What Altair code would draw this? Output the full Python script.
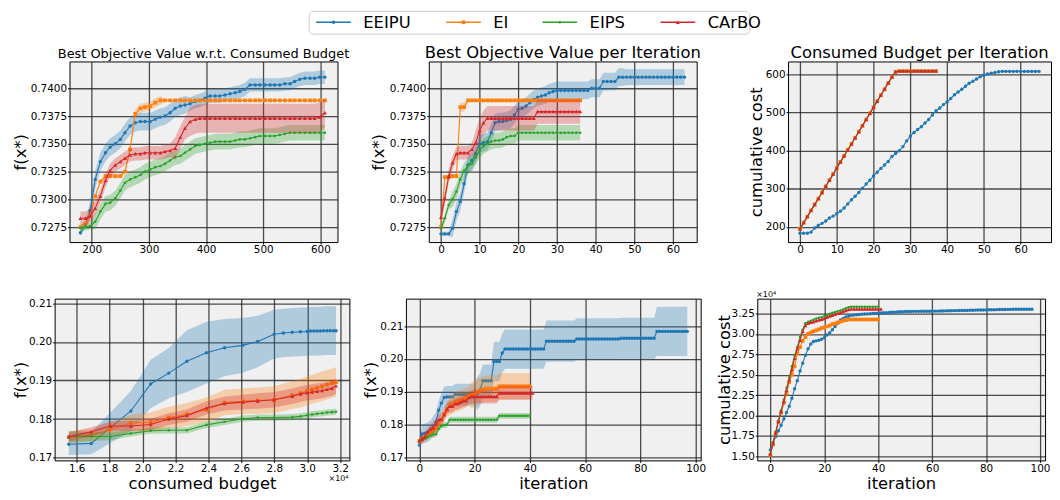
import altair as alt
import pandas as pd
import numpy as np

FONT = "DejaVu Sans"
NAMES = ["EEIPU", "EI", "EIPS", "CArBO"]
COLORS = ["#1f77b4", "#ff7f0e", "#2ca02c", "#d62728"]
SHAPES = ["circle", "square", "circle", "triangle-up"]
SIZES = [12, 14, 7, 16]

# ---------------- Panel 1: best objective vs consumed budget ----------------
P1_BUDGET = [180, 189, 197, 206, 215, 224, 232, 241, 250, 258, 267, 276, 285, 293, 302, 311, 320,
             328, 337, 346, 355, 363, 372, 381, 389, 398, 407, 416, 424, 433, 442, 451, 459, 468,
             477, 486, 494, 503, 512, 520, 529, 538, 547, 555, 564, 573, 582, 590, 599, 608]
P1_EEIPU = [0.7270, 0.7277, 0.7290, 0.7318, 0.7334, 0.7342, 0.7347, 0.7350, 0.7354, 0.7360,
            0.7366, 0.7369, 0.7370, 0.7370, 0.7370, 0.7372, 0.7374, 0.7375, 0.7378, 0.7382,
            0.7384, 0.7385, 0.7386, 0.7388, 0.7389, 0.7391, 0.7393, 0.7393, 0.7393, 0.7394,
            0.7395, 0.7396, 0.7397, 0.7399, 0.7403, 0.7403, 0.7403, 0.7403, 0.7403, 0.7403,
            0.7403, 0.7404, 0.7404, 0.7406, 0.7408, 0.7409, 0.7409, 0.7409, 0.7410, 0.7410]
P1_EI = [0.7275, 0.7278, 0.7285, 0.7303, 0.7316, 0.7321, 0.7321, 0.7321, 0.7321, 0.7325,
         0.7345, 0.7377, 0.7382, 0.7383, 0.7384, 0.7387, 0.7389] + [0.7389] * 33
P1_EIPS = [0.7274, 0.7275, 0.7276, 0.7280, 0.7289, 0.7296, 0.7297, 0.7301, 0.7308, 0.7315,
           0.7318, 0.7320, 0.7322, 0.7325, 0.7327, 0.7329, 0.7330, 0.7332, 0.7335, 0.7338,
           0.7339, 0.7342, 0.7345, 0.7348, 0.7349, 0.7350, 0.7351, 0.7352, 0.7352, 0.7352,
           0.7352, 0.7353, 0.7354, 0.7354, 0.7355, 0.7356, 0.7357, 0.7357, 0.7357, 0.7357,
           0.7358, 0.7359, 0.7360] + [0.7360] * 7
P1_CARBO = [0.7283, 0.7283, 0.7285, 0.7292, 0.7303, 0.7317, 0.7326, 0.7331, 0.7334, 0.7337,
            0.7340, 0.7341, 0.7341, 0.7342, 0.7342, 0.7342, 0.7342, 0.7343, 0.7344, 0.7346,
            0.7356, 0.7364, 0.7370, 0.7372, 0.7373] + [0.7373] * 23 + [0.7374, 0.7378]
P1_SD_EEIPU = [0.0003] * 2 + [0.0008] * 20 + [0.0006] * 28
P1_SD_EI = [0.0002] * 11 + [0.0004] * 6 + [0.0001] * 33
P1_SD_EIPS = [0.0003] * 3 + [0.0007] * 47
P1_SD_CARBO = [0.0006] * 19 + [0.0010] * 3 + [0.0013] * 28

# ---------------- Panel 2: best objective per iteration ----------------
P2_EEIPU = [0.7269, 0.7269, 0.7269, 0.7274, 0.7289, 0.7298, 0.7314, 0.7331, 0.7335, 0.7341,
            0.7350, 0.7351, 0.7352, 0.7360, 0.7369, 0.7370, 0.7370, 0.7371, 0.7372, 0.7376,
            0.7381, 0.7382, 0.7384, 0.7387, 0.7390, 0.7392, 0.7393, 0.7394, 0.7396, 0.7397] \
           + [0.7398] * 9 + [0.7400] * 3 + [0.7406] * 4 + [0.7410] * 18
P2_EI = [0.7275, 0.7320, 0.7320, 0.7321, 0.7321, 0.7383, 0.7383] + [0.7389] * 30
P2_EIPS = [0.7274, 0.7283, 0.7295, 0.7300, 0.7307, 0.7318, 0.7326, 0.7330, 0.7332, 0.7338,
           0.7344, 0.7348, 0.7350, 0.7352, 0.7353, 0.7353, 0.7354, 0.7356, 0.7357, 0.7357] \
          + [0.7360] * 17
P2_CARBO = [0.7284, 0.7301, 0.7321, 0.7333, 0.7341, 0.7342, 0.7342, 0.7342, 0.7345, 0.7351,
            0.7362, 0.7369, 0.7373] + [0.7373] * 12 + [0.7379] * 12
P2_SD_EEIPU = [0.0002] * 3 + [0.0008] * 45 + [0.0007] * 16
P2_SD_EI = [0.0002] * 5 + [0.0004] * 2 + [0.0001] * 30
P2_SD_EIPS = [0.0004] * 3 + [0.0007] * 34
P2_SD_CARBO = [0.0006] * 9 + [0.0011] * 28

# ---------------- Panel 3: consumed budget per iteration ----------------
P3_EEIPU = [183, 183, 183, 186, 197, 204, 209, 215, 223, 228,
            234, 241, 249, 260, 271, 280, 290, 301, 312, 322,
            333, 343, 353, 362, 371, 384, 392, 399, 410, 425,
            437, 447, 455, 462, 472, 481, 493, 504, 511, 520,
            527, 536, 546, 553, 560, 568, 576, 581, 587, 593,
            597, 600, 602, 604, 606] + [607] * 11
P3_EI = [195, 211, 227, 243, 259, 274, 290, 306, 322, 338, 354, 370, 386, 402, 417, 433, 449,
         465, 481, 497, 513, 529, 545, 560, 576, 592, 606] + [608] * 11
P3_EIPS = [194, 210, 226, 242, 258, 274, 290, 306, 321, 337, 353, 369, 385, 401, 417, 433, 449,
           465, 481, 497, 513, 529, 544, 560, 576, 592, 606] + [608] * 11
P3_CARBO = [195, 211, 227, 243, 258, 274, 290, 306, 322, 338, 354, 370, 386, 401, 417, 433, 449,
            465, 481, 497, 513, 529, 545, 561, 577, 593, 606] + [608] * 11

# ---------------- Panel 4: best objective vs consumed budget (x 1e4) ----------------
P4_X_EEIPU = [1.552, 1.688, 1.929, 2.049, 2.159, 2.269, 2.388, 2.498, 2.609, 2.699, 2.799, 2.855,
              2.909, 2.959, 3.000, 3.020, 3.040, 3.060, 3.080, 3.100, 3.120, 3.140, 3.160, 3.175]
P4_EEIPU = [0.1735, 0.1737, 0.1821, 0.1891, 0.1919, 0.1950, 0.1972, 0.1985, 0.1991, 0.2001,
            0.2020, 0.2023, 0.2025, 0.2026, 0.2027, 0.2028, 0.2028, 0.2028, 0.2028, 0.2029,
            0.2029, 0.2029, 0.2029, 0.2029]
P4_SD_EEIPU = [0.0028, 0.0028, 0.0052, 0.0063, 0.0065, 0.0080, 0.0080, 0.0074, 0.0071, 0.0067,
               0.0063, 0.0063] + [0.0063] * 12
P4_X_OTHERS = [1.552, 1.688, 1.806, 1.929, 2.049, 2.159, 2.269, 2.388, 2.498, 2.609, 2.699,
               2.799, 2.909, 2.959, 3.000, 3.030, 3.060, 3.090, 3.120, 3.150, 3.175]
P4_EI = [0.1753, 0.1758, 0.1773, 0.1790, 0.1792, 0.1804, 0.1812, 0.1824, 0.1843, 0.1846, 0.1848,
         0.1850, 0.1862, 0.1867, 0.1873, 0.1877, 0.1881, 0.1885, 0.1889, 0.1893, 0.1896]
P4_SD_EI = [0.0015, 0.0016, 0.0018, 0.0022, 0.0025, 0.0028, 0.0030, 0.0032, 0.0033, 0.0033,
            0.0034, 0.0035, 0.0036, 0.0037] + [0.0038] * 7
P4_EIPS = [0.1755, 0.1755, 0.1755, 0.1763, 0.1770, 0.1771, 0.1771, 0.1785, 0.1793, 0.1801, 0.1804,
           0.1804, 0.1805, 0.1807, 0.1810, 0.1812, 0.1814, 0.1815, 0.1817, 0.1818, 0.1819]
P4_SD_EIPS = [0.0015, 0.0012, 0.0010] + [0.0008] * 18
P4_CARBO = [0.1754, 0.1767, 0.1782, 0.1782, 0.1786, 0.1800, 0.1809, 0.1829, 0.1840, 0.1844, 0.1847,
            0.1850, 0.1859, 0.1865, 0.1868, 0.1870, 0.1872, 0.1874, 0.1877, 0.1880, 0.1886]
P4_SD_CARBO = [0.0012, 0.0012, 0.0012, 0.0013, 0.0014, 0.0015, 0.0016, 0.0017, 0.0018, 0.0019] \
              + [0.0020] * 11

# ---------------- Panel 5: best objective per iteration ----------------
P5_EEIPU = [0.1737, 0.1771, 0.1773, 0.1776, 0.1782, 0.1795, 0.1807, 0.1843, 0.1865, 0.1882] \
           + [0.1884] * 3 + [0.1891] * 8 + [0.1894, 0.1906] + [0.1933] * 4 + [0.1992] * 3 \
           + [0.2018] + [0.2030] * 15 + [0.2054] * 11 + [0.2061] * 16 + [0.2063] * 13 + [0.2084] * 12
P5_SD_EEIPU = [0.0010] + [0.0030] * 8 + [0.0033] * 12 + [0.0050] * 6 + [0.0060] * 19 \
              + [0.0063] * 40 + [0.0075] * 12
P5_EI = [0.1749, 0.1754, 0.1759, 0.1766, 0.1773, 0.1780, 0.1787, 0.1800, 0.1814, 0.1832, 0.1843,
         0.1858, 0.1863, 0.1868, 0.1872, 0.1874, 0.1877, 0.1882, 0.1887, 0.1890, 0.1892, 0.1900,
         0.1903, 0.1906] + [0.1909] * 5 + [0.1916] * 12
P5_SD_EI = [0.0012] * 5 + [0.0020] * 6 + [0.0030] * 8 + [0.0040] * 22
P5_EIPS = [0.1750, 0.1753, 0.1758, 0.1761, 0.1766, 0.1769, 0.1770, 0.1787, 0.1795, 0.1798,
           0.1799] + [0.1814] * 18 + [0.1826] * 12
P5_SD_EIPS = [0.0006] * 5 + [0.0009] * 36
P5_CARBO = [0.1750, 0.1756, 0.1763, 0.1777, 0.1787, 0.1790, 0.1800, 0.1814, 0.1816, 0.1829,
            0.1848, 0.1855, 0.1855, 0.1863, 0.1864, 0.1868, 0.1872, 0.1873, 0.1882] \
           + [0.1885] * 10 + [0.1896] * 13
P5_SD_CARBO = [0.0012] * 5 + [0.0018] * 14 + [0.0021] * 23

# ---------------- Panel 6: consumed budget per iteration (y 1e4) ----------------
P6_EEIPU = [1.578, 1.664, 1.743, 1.813, 1.880, 1.958, 2.036, 2.114, 2.212, 2.329,
            2.427, 2.545, 2.642, 2.740, 2.818, 2.877, 2.908, 2.916, 2.924, 2.936,
            2.955, 2.987, 3.014, 3.053, 3.092, 3.131, 3.171, 3.190, 3.210, 3.218,
            3.229, 3.233, 3.237, 3.240, 3.243, 3.245, 3.247, 3.249, 3.251, 3.253,
            3.256, 3.258, 3.260, 3.262, 3.264, 3.266, 3.268, 3.270, 3.272, 3.274,
            3.276, 3.277, 3.277, 3.278, 3.278, 3.278, 3.279, 3.279, 3.279, 3.280,
            3.280, 3.281, 3.281, 3.282, 3.283, 3.284, 3.285, 3.286, 3.287, 3.287,
            3.288, 3.289, 3.289, 3.290, 3.291, 3.292, 3.293, 3.294, 3.294, 3.295,
            3.296, 3.297, 3.297, 3.298, 3.299, 3.300, 3.300, 3.301, 3.302, 3.302] + [3.303] * 8
P6_EI = [1.516, 1.645, 1.782, 1.919, 2.036, 2.153, 2.271, 2.408, 2.505, 2.603,
         2.760, 2.838, 2.916, 2.963, 3.002, 3.018, 3.034, 3.045, 3.057, 3.073,
         3.081, 3.092, 3.104, 3.120, 3.128, 3.143, 3.151, 3.163, 3.171, 3.178] + [3.178] * 11
P6_EIPS = [1.530, 1.672, 1.801, 1.938, 2.063, 2.192, 2.337, 2.466, 2.603, 2.740,
           2.838, 2.963, 3.053, 3.131, 3.151, 3.163, 3.174, 3.190, 3.198, 3.206,
           3.218, 3.229, 3.249, 3.261, 3.268, 3.280, 3.288, 3.300, 3.315, 3.327] + [3.335] * 11
P6_CARBO = [1.527, 1.656, 1.790, 1.930, 2.048, 2.173, 2.310, 2.439, 2.564, 2.701,
            2.818, 2.924, 3.034, 3.104, 3.131, 3.143, 3.151, 3.163, 3.171, 3.182,
            3.190, 3.206, 3.221, 3.229, 3.241, 3.253, 3.264, 3.276, 3.288, 3.300] + [3.307] * 12

P1_YTICKS = [0.7275, 0.7300, 0.7325, 0.7350, 0.7375, 0.7400]
P3_YTICKS = [200, 300, 400, 500, 600]
P4_XTICKS = [1.6, 1.8, 2.0, 2.2, 2.4, 2.6, 2.8, 3.0, 3.2]
P45_YTICKS = [0.17, 0.18, 0.19, 0.20, 0.21]
P6_YTICKS = [1.50, 1.75, 2.00, 2.25, 2.50, 2.75, 3.00, 3.25]


def iters(vals):
    return list(range(len(vals)))


def anchor(left, right, top, bottom):
    """Invisible rule that fixes the layout bounds of a panel (pixels, relative to its plot)."""
    return alt.Chart(pd.DataFrame({"a": [0]})).mark_rule(opacity=0, strokeWidth=0.1).encode(
        x=alt.value(-left), x2=alt.value(right), y=alt.value(-top), y2=alt.value(bottom))


def label(text, px, py, size, align="center", baseline="alphabetic"):
    return alt.Chart(pd.DataFrame({"t": [text]})).mark_text(
        font=FONT, fontSize=size, color="black", align=align, baseline=baseline).encode(
        text="t:N", x=alt.value(px), y=alt.value(py))


def make_panel(series, xdom, ydom, xticks, yticks, xfmt, yfmt, width, height,
               ytitle, ytitle_x, bounds, xtitle="", title=None, title_size=16.5, extras=()):
    xscale = alt.Scale(domain=xdom, nice=False, zero=False)
    yscale = alt.Scale(domain=ydom, nice=False, zero=False)
    xaxis = alt.Axis(values=xticks, format=xfmt, title=xtitle, titleY=28,
                     titleBaseline="alphabetic")
    yaxis = alt.Axis(values=yticks, format=yfmt, title=ytitle, titleX=ytitle_x,
                     titleBaseline="middle")
    layers = []
    for name, xs, ys, sd in series:
        i = NAMES.index(name)
        df = pd.DataFrame({"x": xs, "y": ys})
        X = alt.X("x:Q", scale=xscale, axis=xaxis)
        if sd is not None:
            s = np.asarray(sd, dtype=float)
            df["lo"] = df["y"] - s
            df["hi"] = df["y"] + s
            layers.append(alt.Chart(df).mark_area(color=COLORS[i], opacity=0.3, clip=True).encode(
                x=X, y=alt.Y("lo:Q", scale=yscale, axis=yaxis), y2="hi:Q"))
        layers.append(alt.Chart(df).mark_line(color=COLORS[i], strokeWidth=1.1, clip=True).encode(
            x=X, y=alt.Y("y:Q", scale=yscale, axis=yaxis)))
        layers.append(alt.Chart(df).mark_point(color=COLORS[i], filled=True, opacity=1,
                                               shape=SHAPES[i], size=SIZES[i], clip=True).encode(
            x=X, y=alt.Y("y:Q", scale=yscale, axis=yaxis)))
    layers.extend(extras)
    if title:
        layers.append(label(title, width / 2, -3, title_size))
    l, r, t, b = bounds
    layers.append(anchor(l, width + r, t, height + b))
    return alt.layer(*layers).properties(width=width, height=height)


def spacer():
    return alt.Chart(pd.DataFrame({"v": [0]})).mark_point(opacity=0, size=1).encode(
        x=alt.value(0), y=alt.value(0)).properties(
        width=1, height=1, view=alt.ViewBackground(stroke="transparent", fill="transparent"))


# ---------------- manual legend ----------------
LEG_W, LEG_H = 444, 23
LEG_CENTERS = [25, 156, 253, 372]
LEG_Y = 11.5
leg_layers = []
for i, name in enumerate(NAMES):
    d = alt.Chart(pd.DataFrame({"name": [name]}))
    c = LEG_CENTERS[i]
    leg_layers.append(d.mark_rule(color=COLORS[i], strokeWidth=1.3).encode(
        x=alt.value(c - 17.5), x2=alt.value(c + 17.5), y=alt.value(LEG_Y)))
    leg_layers.append(d.mark_point(color=COLORS[i], filled=True, opacity=1, shape=SHAPES[i],
                                   size=SIZES[i]).encode(x=alt.value(c), y=alt.value(LEG_Y)))
    leg_layers.append(d.mark_text(font=FONT, fontSize=16.5, color="black", align="left",
                                  baseline="middle").encode(
        text="name:N", x=alt.value(c + 30), y=alt.value(LEG_Y + 0.5)))
leg_layers.append(anchor(299, LEG_W, 0, LEG_H))
legend = alt.layer(*leg_layers).properties(
    width=LEG_W, height=LEG_H,
    view=alt.ViewBackground(stroke="#cccccc", fill="white", cornerRadius=4, strokeWidth=1))

TH = 182
BH = 163
T1, B1 = 24, 43
T2, B2 = 10, 33

p1 = make_panel([
    ("EEIPU", P1_BUDGET, P1_EEIPU, P1_SD_EEIPU),
    ("EI", P1_BUDGET, P1_EI, P1_SD_EI),
    ("EIPS", P1_BUDGET, P1_EIPS, P1_SD_EIPS),
    ("CArBO", P1_BUDGET, P1_CARBO, P1_SD_CARBO)],
    [161, 630], [0.72616, 0.74241], [200, 300, 400, 500, 600], P1_YTICKS, "d", ".4f",
    270, TH, "f(x*)", -49.5, (58, 30, T1, B1),
    title="Best Objective Value w.r.t. Consumed Budget", title_size=13)

p2 = make_panel([
    ("EEIPU", iters(P2_EEIPU), P2_EEIPU, P2_SD_EEIPU),
    ("EI", iters(P2_EI), P2_EI, P2_SD_EI),
    ("EIPS", iters(P2_EIPS), P2_EIPS, P2_SD_EIPS),
    ("CArBO", iters(P2_CARBO), P2_CARBO, P2_SD_CARBO)],
    [-3.15, 66.15], [0.72616, 0.74241], [0, 10, 20, 30, 40, 50, 60], P1_YTICKS, "d", ".4f",
    270, TH, "f(x*)", -51, (60, 45, T1, B1), title="Best Objective Value per Iteration")

p3 = make_panel([
    ("EEIPU", iters(P3_EEIPU), P3_EEIPU, None),
    ("EI", iters(P3_EI), P3_EI, None),
    ("EIPS", iters(P3_EIPS), P3_EIPS, None),
    ("CArBO", iters(P3_CARBO), P3_CARBO, None)],
    [-3.25, 68.25], [160, 633], [0, 10, 20, 30, 40, 50, 60], P3_YTICKS, "d", "d",
    265, TH, "cumulative cost", -32, (45, 0, T1, B1), title="Consumed Budget per Iteration")

p4 = make_panel([
    ("EEIPU", P4_X_EEIPU, P4_EEIPU, P4_SD_EEIPU),
    ("EI", P4_X_OTHERS, P4_EI, P4_SD_EI),
    ("EIPS", P4_X_OTHERS, P4_EIPS, P4_SD_EIPS),
    ("CArBO", P4_X_OTHERS, P4_CARBO, P4_SD_CARBO)],
    [1.466, 3.256], [0.1693, 0.2112], P4_XTICKS, P45_YTICKS, ".1f", ".2f",
    297, BH, "f(x*)", -34.5, (43, 10, T2, B2), xtitle="consumed budget",
    extras=[label("×10⁴", 286, BH + 19, 8, baseline="middle")])

p5 = make_panel([
    ("EEIPU", iters(P5_EEIPU), P5_EEIPU, P5_SD_EEIPU),
    ("EI", iters(P5_EI), P5_EI, P5_SD_EI),
    ("EIPS", iters(P5_EIPS), P5_EIPS, P5_SD_EIPS),
    ("CArBO", iters(P5_CARBO), P5_CARBO, P5_SD_CARBO)],
    [-4.85, 101.85], [0.1690, 0.2184], [0, 20, 40, 60, 80, 100], P45_YTICKS, "d", ".2f",
    297, BH, "f(x*)", -36, (45, 12, T2, B2), xtitle="iteration")

p6 = make_panel([
    ("EEIPU", iters(P6_EEIPU), P6_EEIPU, None),
    ("EI", iters(P6_EI), P6_EI, None),
    ("EIPS", iters(P6_EIPS), P6_EIPS, None),
    ("CArBO", iters(P6_CARBO), P6_CARBO, None)],
    [-4.85, 101.85], [1.449, 3.434], [0, 20, 40, 60, 80, 100], P6_YTICKS, "d", ".2f",
    290, BH, "cumulative cost", -33, (43, 6, T2, B2), xtitle="iteration",
    extras=[label("×10⁴", 9, -4, 8, baseline="middle")])

# every row starts with a 1px invisible spacer so that the rows' origins line up
row0 = alt.hconcat(spacer(), legend, spacing=0)
row1 = alt.hconcat(spacer(), p1, p2, p3, spacing=0)
row2 = alt.hconcat(spacer(), p4, p5, p6, spacing=0)

chart = alt.vconcat(row0, row1, row2, spacing=2).properties(
    padding={"left": 0, "top": 0, "right": 0, "bottom": 0}
).configure_view(
    stroke="black", strokeWidth=1, fill="#f0f0f0"
).configure_axis(
    labelFont=FONT, labelFontSize=10.5, labelColor="black", labelPadding=1,
    labelOverlap=False, labelFlush=False,
    titleFont=FONT, titleFontSize=16.5, titleFontWeight="normal", titleColor="black",
    grid=True, gridColor="#222222", gridOpacity=0.8, gridWidth=1.3,
    domain=False, ticks=True, tickSize=2, tickColor="black"
)

chart.save("out.html", embed_options={"renderer": "svg", "actions": False})
